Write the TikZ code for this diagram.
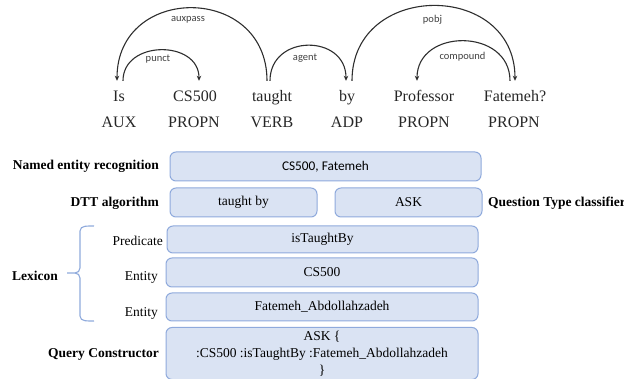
\documentclass[tikz,border=0pt]{standalone}
\usepackage{fontspec}
\setmainfont{Liberation Serif}
\newfontfamily\labelfont{Carlito}
\usetikzlibrary{arrows.meta}
\definecolor{boxfill}{HTML}{DAE3F3}
\definecolor{boxline}{HTML}{8FAADC}
\definecolor{arcgray}{HTML}{2E2E2E}
\begin{document}
\begin{tikzpicture}[x=1pt,y=-1pt,
  word/.style={inner sep=0pt,text height=12pt,text depth=4pt,font=\fontsize{16}{19}\selectfont,text=black!85},
  postag/.style={inner sep=0pt,font=\fontsize{16}{19}\selectfont,text=black!85},
  dep/.style={draw=arcgray,line width=1.1pt,-{Stealth[length=5pt,width=4.5pt]}},
  deplabel/.style={inner sep=0pt,font=\labelfont\fontsize{10.5}{12}\selectfont,text=black!75},
  stagebox/.style={draw=boxline,fill=boxfill,line width=1pt,rounded corners=6pt,inner sep=0pt,
    font=\fontsize{13.5}{17}\selectfont,align=center},
  stagename/.style={inner sep=0pt,font=\bfseries\fontsize{13.5}{16}\selectfont},
  rolename/.style={inner sep=0pt,font=\fontsize{13.5}{16}\selectfont},
  bracket/.style={draw=boxline,line width=1.1pt}]
\useasboundingbox (0,0) rectangle (624,379);

% tokens of the sentence
\node[word] (w1) at (119,98) {Is};
\node[word] (w2) at (195,98) {CS500};
\node[word] (w3) at (272,98) {taught};
\node[word] (w4) at (347,98) {by};
\node[word] (w5) at (424,98) {Professor};
\node[word] (w6) at (515,98) {Fatemeh?};

% part-of-speech tags
\node[postag] (p1) at (119,122) {AUX};
\node[postag] (p2) at (194,122) {PROPN};
\node[postag] (p3) at (272,122) {VERB};
\node[postag] (p4) at (347,122) {ADP};
\node[postag] (p5) at (424,122) {PROPN};
\node[postag] (p6) at (514,122) {PROPN};

% dependency arcs
\draw[dep] ([xshift=-5pt,yshift=9pt]w3.north) .. controls +(0,-97) and +(0,-97) .. ([xshift=-2pt,yshift=9pt]w1.north)
  node[deplabel,midway,yshift=-12pt,xshift=-4pt] {auxpass};
\draw[dep] ([xshift=4pt,yshift=9pt]w1.north) .. controls +(0,-41) and +(0,-41) .. ([xshift=4pt,yshift=9pt]w2.north)
  node[deplabel,midway,yshift=-9pt,xshift=-3pt] {punct};
\draw[dep] ([xshift=-2pt,yshift=9pt]w3.north) .. controls +(0,-47) and +(0,-47) .. ([xshift=-1pt,yshift=9pt]w4.north)
  node[deplabel,midway,yshift=-13pt,xshift=-3pt] {agent};
\draw[dep] ([xshift=5pt,yshift=9pt]w4.north) .. controls +(0,-100) and +(0,-100) .. ([xshift=0pt,yshift=9pt]w6.north)
  node[deplabel,midway,yshift=-14pt,xshift=-1pt] {pobj};
\draw[dep] ([xshift=-5pt,yshift=9pt]w6.north) .. controls +(0,-53) and +(0,-53) .. ([xshift=-7pt,yshift=9pt]w5.north)
  node[deplabel,midway,yshift=-16pt,xshift=-1pt] {compound};

% pipeline stages
\node[stagebox,minimum width=311pt,minimum height=29pt,font=\labelfont\fontsize{13.3}{16}\selectfont] (ner) at (325.5,166.5) {CS500, Fatemeh};
\node[stagebox,minimum width=147pt,minimum height=29pt] (dtt) at (243.5,202.5) {taught by};
\node[stagebox,minimum width=147pt,minimum height=29pt] (qtc) at (408.5,202.5) {ASK};
\node[stagebox,minimum width=311pt,minimum height=27pt] (pred) at (322.5,239.5) {isTaughtBy};
\node[stagebox,minimum width=312pt,minimum height=29pt] (ent1) at (322,272.5) {CS500};
\node[stagebox,minimum width=312pt,minimum height=28pt] (ent2) at (322,307) {Fatemeh\_Abdollahzadeh};
\node[stagebox,minimum width=312pt,minimum height=52pt] (query) at (322,353.5) {ASK \{\\:CS500 :isTaughtBy :Fatemeh\_Abdollahzadeh\\\}};

% stage names
\node[stagename,anchor=east] (nerlbl) at (159,166) {Named entity recognition};
\node[stagename,anchor=east] (dttlbl) at (159,203) {DTT algorithm};
\node[stagename,anchor=west] (qtclbl) at (488,203) {Question Type classifier};
\node[rolename,anchor=east] (predlbl) at (163,241) {Predicate};
\node[rolename,anchor=east] (ent1lbl) at (158,277) {Entity};
\node[rolename,anchor=east] (ent2lbl) at (158,313) {Entity};
\node[stagename,anchor=west] (lexlbl) at (12,276) {Lexicon};
\node[stagename,anchor=east] (querylbl) at (159,354) {Query Constructor};

% brace grouping the lexicon entries
\draw[bracket] (94,226) to[out=180,in=90] (80,231) -- (80,268) to[out=-90,in=0] (75,273) -- (67,273);
\draw[bracket] (75,273) to[out=0,in=90] (80,278) -- (80,316) to[out=-90,in=180] (94,321);
\end{tikzpicture}
\end{document}
